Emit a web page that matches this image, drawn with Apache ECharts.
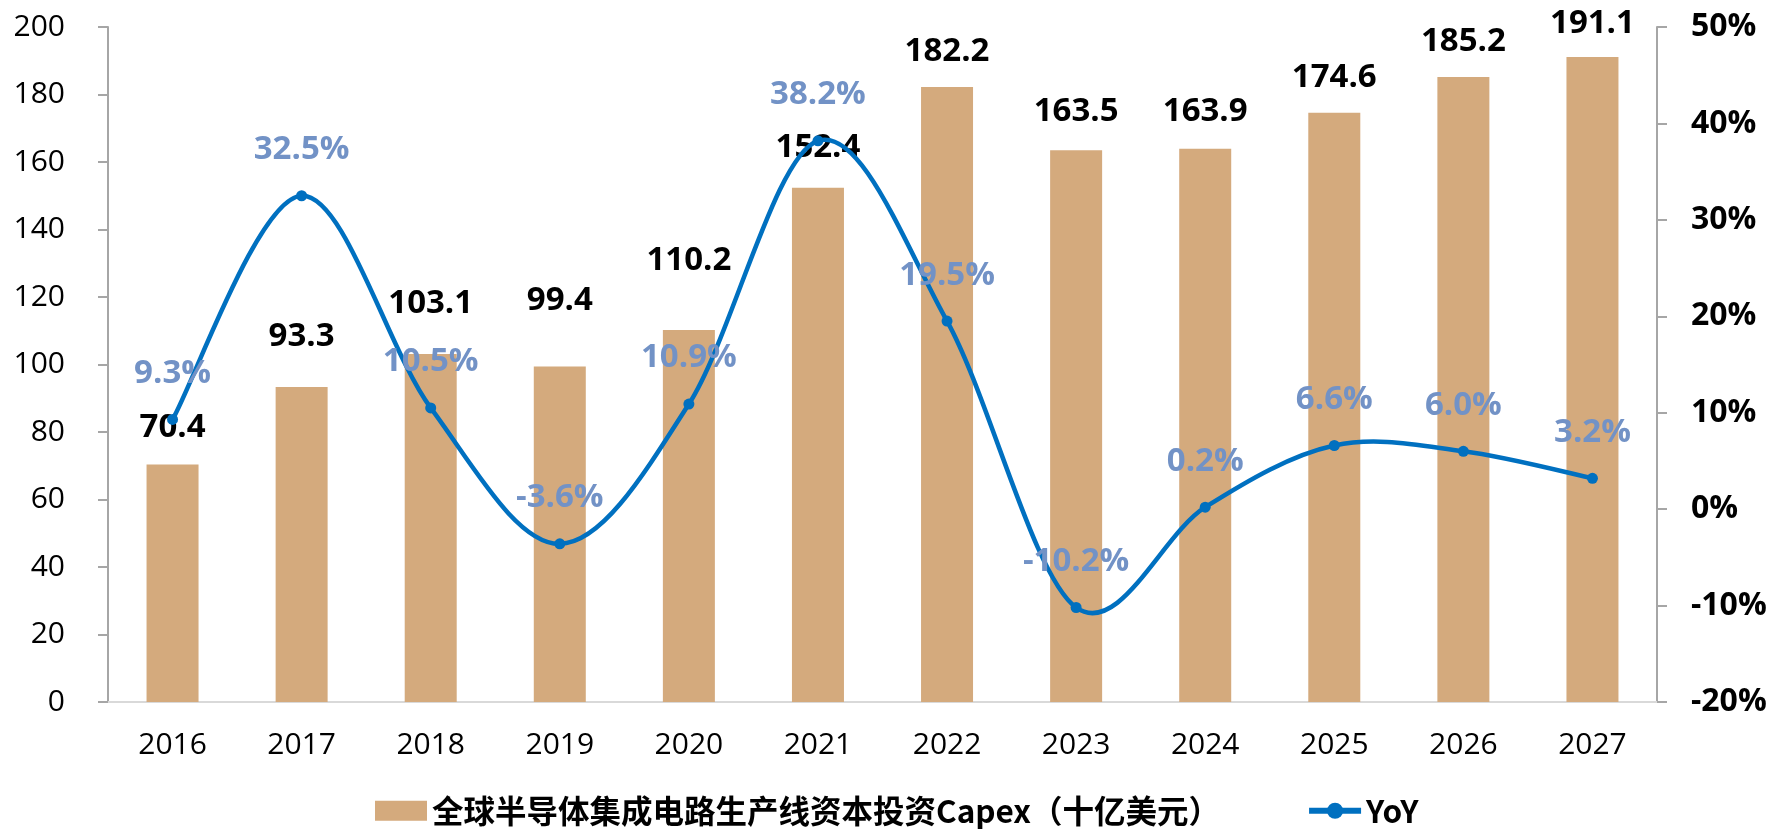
<!DOCTYPE html>
<html>
<head>
<meta charset="utf-8">
<script src="https://cdn.jsdelivr.net/npm/echarts@6/dist/echarts.min.js"></script>
<style>
  html, body { margin: 0; padding: 0; background: #ffffff; }
  #chart { width: 1775px; height: 829px; }
</style>
</head>
<body>
<div id="chart"></div>
<script>
// Years on the category axis
const years = ['2016', '2017', '2018', '2019', '2020', '2021', '2022', '2023', '2024', '2025', '2026', '2027'];
// Global IC fab capex, billion USD
const capex = [70.4, 93.3, 103.1, 99.4, 110.2, 152.4, 182.2, 163.5, 163.9, 174.6, 185.2, 191.1];
// Year-over-year growth, %
const yoy = [9.3, 32.5, 10.5, -3.6, 10.9, 38.2, 19.5, -10.2, 0.2, 6.6, 6.0, 3.2];

// Series names shown in the legend
const barName = '全球半导体集成电路生产线资本投资Capex（十亿美元）';
const lineName = 'YoY';

// How far each capex label sits above its bar (px)
const barLabelGap = [20, 34, 34, 49, 53, 24, 19, 22, 21, 19, 19, 17];

const BAR_COLOR = '#d4aa7d';
const LINE_COLOR = '#0070c0';
const YOY_LABEL_COLOR = '#7292c6';
const FONT = "'Open Sans', 'Noto Sans CJK SC', sans-serif";
const CJK_FONT = "'Noto Sans CJK SC', 'Open Sans', sans-serif";

// Catmull-Rom style smoothing: one cubic segment from point i to i+1,
// tangents taken from the neighbouring points (ends reuse themselves).
function renderSmoothSegment(params, api) {
  const i = params.dataIndex;
  if (i >= yoy.length - 1) return null;
  const pt = k => api.coord([Math.max(0, Math.min(yoy.length - 1, k)), yoy[Math.max(0, Math.min(yoy.length - 1, k))]]);
  const p0 = pt(i - 1), p1 = pt(i), p2 = pt(i + 1), p3 = pt(i + 2);
  return {
    type: 'bezierCurve',
    shape: {
      x1: p1[0], y1: p1[1],
      cpx1: p1[0] + (p2[0] - p0[0]) / 6, cpy1: p1[1] + (p2[1] - p0[1]) / 6,
      cpx2: p2[0] - (p3[0] - p1[0]) / 6, cpy2: p2[1] - (p3[1] - p1[1]) / 6,
      x2: p2[0], y2: p2[1]
    },
    style: { stroke: LINE_COLOR, fill: null, lineWidth: 4.5, lineCap: 'round' }
  };
}

const chart = echarts.init(document.getElementById('chart'), null, { renderer: 'canvas' });

chart.setOption({
  backgroundColor: '#ffffff',
  animation: false,
  grid: { left: 108, right: 118, top: 27, bottom: 127, containLabel: false },
  legend: {
    left: 370,
    top: 790,
    itemWidth: 52,
    itemHeight: 20,
    itemGap: 86,
    textStyle: { fontFamily: CJK_FONT, fontSize: 31.5, fontWeight: 'bold', color: '#000000' },
    data: [
      { name: barName, icon: 'rect' },
      { name: lineName, lineStyle: { width: 6, opacity: 1, color: LINE_COLOR } }
    ]
  },
  xAxis: {
    type: 'category',
    data: years,
    axisLine: { onZero: false, lineStyle: { color: '#d9d9d9', width: 2 } },
    axisTick: { show: false },
    axisLabel: { margin: 28, fontFamily: FONT, fontSize: 30, color: '#000000' },
    splitLine: { show: false }
  },
  yAxis: [
    {
      type: 'value',
      min: 0, max: 200, interval: 20,
      axisLine: { show: true, onZero: false, lineStyle: { color: '#a6a6a6', width: 2 } },
      axisTick: { show: true, length: 10, lineStyle: { color: '#a6a6a6', width: 2 } },
      axisLabel: { margin: 43, fontFamily: FONT, fontSize: 30, color: '#000000' },
      splitLine: { show: false }
    },
    {
      type: 'value',
      min: -20, max: 50, interval: 10,
      position: 'right',
      axisLine: { show: true, onZero: false, lineStyle: { color: '#a6a6a6', width: 2 } },
      axisTick: { show: true, length: 10, lineStyle: { color: '#a6a6a6', width: 2 } },
      axisLabel: {
        margin: 34, fontFamily: FONT, fontSize: 32, fontWeight: 'bold', color: '#000000',
        formatter: v => v + '%'
      },
      splitLine: { show: false }
    }
  ],
  series: [
    {
      name: barName,
      type: 'bar',
      yAxisIndex: 0,
      barWidth: 52,
      itemStyle: { color: BAR_COLOR },
      data: capex.map((v, i) => ({
        value: v,
        label: { distance: barLabelGap[i] }
      })),
      label: {
        show: true,
        position: 'top',
        fontFamily: FONT,
        fontSize: 33,
        fontWeight: 'bold',
        color: '#000000',
        formatter: p => p.value.toFixed(1)
      },
      z: 2
    },
    {
      // smoothed YoY curve
      name: 'YoY curve',
      type: 'custom',
      yAxisIndex: 1,
      data: yoy.map((v, i) => [i, v]),
      renderItem: renderSmoothSegment,
      silent: true,
      z: 3
    },
    {
      // YoY markers and value labels
      name: lineName,
      type: 'line',
      yAxisIndex: 1,
      data: yoy,
      symbol: 'circle',
      symbolSize: 11,
      lineStyle: { color: LINE_COLOR, width: 0, opacity: 0 },
      itemStyle: { color: LINE_COLOR },
      label: {
        show: true,
        position: 'top',
        distance: 24,
        fontFamily: FONT,
        fontSize: 33,
        fontWeight: 'bold',
        color: YOY_LABEL_COLOR,
        formatter: p => p.value.toFixed(1) + '%'
      },
      z: 4
    }
  ]
});
</script>
</body>
</html>
